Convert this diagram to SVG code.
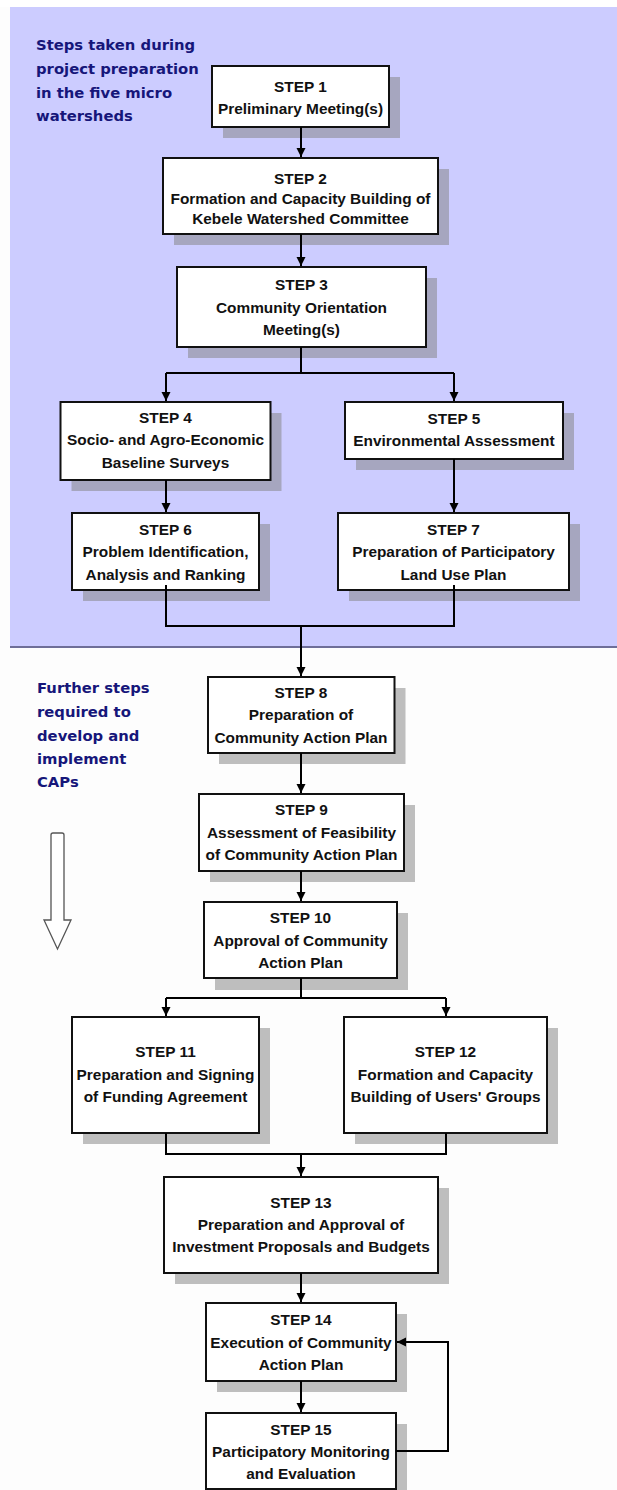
<svg xmlns="http://www.w3.org/2000/svg" width="617" height="1490" viewBox="0 0 617 1490">
<style>
.bg{fill:#fdfdfd}
.panel{fill:#ccccff}
.sep{stroke:#6e6e98;stroke-width:2}
.side{font-family:"DejaVu Sans",sans-serif;font-weight:bold;font-size:14.8px;fill:#16167a}
.box{fill:#ffffff;stroke:#111;stroke-width:2}
.sh{fill:#808080;fill-opacity:0.5}
.t{font-family:"Liberation Sans",Arial,sans-serif;font-weight:bold;font-size:15.4px;fill:#111;text-anchor:middle}
.c{fill:none;stroke:#000;stroke-width:2}
.hollow{fill:#ffffff;stroke:#555;stroke-width:1.3}
</style>
<defs>
<marker id="ah" markerUnits="userSpaceOnUse" markerWidth="10" markerHeight="10" refX="9" refY="4.5" orient="auto">
<path d="M0,0 L9,4.5 L0,9 Z" fill="#000"/>
</marker>
</defs>
<rect class="bg" x="0" y="0" width="617" height="1490"/>
<rect x="0" y="0" width="617" height="7" fill="#ffffff"/>
<rect class="panel" x="10" y="7" width="607" height="639"/>
<line class="sep" x1="10" y1="647" x2="617" y2="647"/>

<g id="label-top">
<text class="side" x="36" y="50">Steps taken during</text>
<text class="side" x="36" y="74">project preparation</text>
<text class="side" x="36" y="97.5">in the five micro</text>
<text class="side" x="36" y="121">watersheds</text>
</g>
<g id="label-bottom">
<text class="side" x="37" y="693">Further steps</text>
<text class="side" x="37" y="716.5">required to</text>
<text class="side" x="37" y="740.5">develop and</text>
<text class="side" x="37" y="764">implement</text>
<text class="side" x="37" y="787">CAPs</text>
</g>
<g id="down-arrow">
<path class="hollow" d="M51,835 Q51,833 53,833 H62 Q64,833 64,835 V920 H71 L57.5,949 L44,920 H51 Z"/>
</g>

<g id="step1">
<rect class="sh" x="223" y="77" width="177" height="61"/>
<rect class="box" x="212" y="66" width="177" height="61"/>
<text class="t" x="300.5" y="92">STEP 1</text>
<text class="t" x="300.5" y="114">Preliminary Meeting(s)</text>
</g>
<g id="step2">
<rect class="sh" x="174" y="169" width="275" height="76"/>
<rect class="box" x="163" y="158" width="275" height="76"/>
<text class="t" x="300.5" y="184">STEP 2</text>
<text class="t" x="300.5" y="204">Formation and Capacity Building of</text>
<text class="t" x="300.5" y="224">Kebele Watershed Committee</text>
</g>
<g id="step3">
<rect class="sh" x="188" y="278" width="249" height="80"/>
<rect class="box" x="177" y="267" width="249" height="80"/>
<text class="t" x="301.5" y="290">STEP 3</text>
<text class="t" x="301.5" y="312.5">Community Orientation</text>
<text class="t" x="301.5" y="335">Meeting(s)</text>
</g>
<g id="step4">
<rect class="sh" x="71.5" y="413" width="210" height="78"/>
<rect class="box" x="60.5" y="402" width="210" height="78"/>
<text class="t" x="165.5" y="423">STEP 4</text>
<text class="t" x="165.5" y="445">Socio- and Agro-Economic</text>
<text class="t" x="165.5" y="467.5">Baseline Surveys</text>
</g>
<g id="step5">
<rect class="sh" x="356" y="413" width="218" height="57"/>
<rect class="box" x="345" y="402" width="218" height="57"/>
<text class="t" x="454" y="424">STEP 5</text>
<text class="t" x="454" y="446">Environmental Assessment</text>
</g>
<g id="step6">
<rect class="sh" x="83" y="524" width="187" height="77"/>
<rect class="box" x="72" y="513" width="187" height="77"/>
<text class="t" x="165.5" y="535">STEP 6</text>
<text class="t" x="165.5" y="557">Problem Identification,</text>
<text class="t" x="165.5" y="580">Analysis and Ranking</text>
</g>
<g id="step7">
<rect class="sh" x="349" y="524" width="231" height="77"/>
<rect class="box" x="338" y="513" width="231" height="77"/>
<text class="t" x="453.5" y="535">STEP 7</text>
<text class="t" x="453.5" y="557">Preparation of Participatory</text>
<text class="t" x="453.5" y="580">Land Use Plan</text>
</g>
<g id="step8">
<rect class="sh" x="219" y="688" width="186.5" height="76"/>
<rect class="box" x="208" y="677" width="186.5" height="76"/>
<text class="t" x="301" y="698">STEP 8</text>
<text class="t" x="301" y="720">Preparation of</text>
<text class="t" x="301" y="742.5">Community Action Plan</text>
</g>
<g id="step9">
<rect class="sh" x="210" y="805" width="205" height="77"/>
<rect class="box" x="199" y="794" width="205" height="77"/>
<text class="t" x="301.5" y="815">STEP 9</text>
<text class="t" x="301.5" y="838">Assessment of Feasibility</text>
<text class="t" x="301.5" y="860">of Community Action Plan</text>
</g>
<g id="step10">
<rect class="sh" x="215" y="913" width="193" height="77"/>
<rect class="box" x="204" y="902" width="193" height="76"/>
<text class="t" x="300.5" y="923">STEP 10</text>
<text class="t" x="300.5" y="946">Approval of Community</text>
<text class="t" x="300.5" y="968">Action Plan</text>
</g>
<g id="step11">
<rect class="sh" x="83" y="1028" width="187" height="116"/>
<rect class="box" x="72" y="1017" width="187" height="116"/>
<text class="t" x="165.5" y="1057">STEP 11</text>
<text class="t" x="165.5" y="1080">Preparation and Signing</text>
<text class="t" x="165.5" y="1102">of Funding Agreement</text>
</g>
<g id="step12">
<rect class="sh" x="355" y="1028" width="203" height="116"/>
<rect class="box" x="344" y="1017" width="203" height="116"/>
<text class="t" x="445.5" y="1057">STEP 12</text>
<text class="t" x="445.5" y="1080">Formation and Capacity</text>
<text class="t" x="445.5" y="1102">Building of Users' Groups</text>
</g>
<g id="step13">
<rect class="sh" x="175" y="1188" width="274" height="96"/>
<rect class="box" x="164" y="1177" width="274" height="96"/>
<text class="t" x="301" y="1208">STEP 13</text>
<text class="t" x="301" y="1229.5">Preparation and Approval of</text>
<text class="t" x="301" y="1252">Investment Proposals and Budgets</text>
</g>
<g id="step14">
<rect class="sh" x="217" y="1314" width="190" height="78"/>
<rect class="box" x="206" y="1303" width="190" height="78"/>
<text class="t" x="301" y="1325">STEP 14</text>
<text class="t" x="301" y="1347.5">Execution of Community</text>
<text class="t" x="301" y="1370">Action Plan</text>
</g>
<g id="step15">
<rect class="sh" x="217" y="1424" width="190" height="76"/>
<rect class="box" x="206" y="1413" width="190" height="76"/>
<text class="t" x="301" y="1435">STEP 15</text>
<text class="t" x="301" y="1457">Participatory Monitoring</text>
<text class="t" x="301" y="1479">and Evaluation</text>
</g>

<g id="connectors">
<path class="c" d="M301,127 V157" marker-end="url(#ah)"/>
<path class="c" d="M301,234 V266" marker-end="url(#ah)"/>
<path class="c" d="M301,347 V373 M166,373 H454"/>
<path class="c" d="M166,373 V401" marker-end="url(#ah)"/>
<path class="c" d="M454,373 V401" marker-end="url(#ah)"/>
<path class="c" d="M166,480 V512" marker-end="url(#ah)"/>
<path class="c" d="M454,459 V512" marker-end="url(#ah)"/>
<path class="c" d="M166,585 V626 H454 V585"/>
<path class="c" d="M301,626 V676" marker-end="url(#ah)"/>
<path class="c" d="M301,753 V793" marker-end="url(#ah)"/>
<path class="c" d="M301,871 V901" marker-end="url(#ah)"/>
<path class="c" d="M301,978 V998 M166,998 H446"/>
<path class="c" d="M166,998 V1016" marker-end="url(#ah)"/>
<path class="c" d="M446,998 V1016" marker-end="url(#ah)"/>
<path class="c" d="M166,1133 V1154 H446 V1133"/>
<path class="c" d="M301,1154 V1176" marker-end="url(#ah)"/>
<path class="c" d="M301,1273 V1302" marker-end="url(#ah)"/>
<path class="c" d="M301,1381 V1412" marker-end="url(#ah)"/>
<path class="c" d="M396,1451 H448 V1342 H397" marker-end="url(#ah)"/>
</g>
</svg>
